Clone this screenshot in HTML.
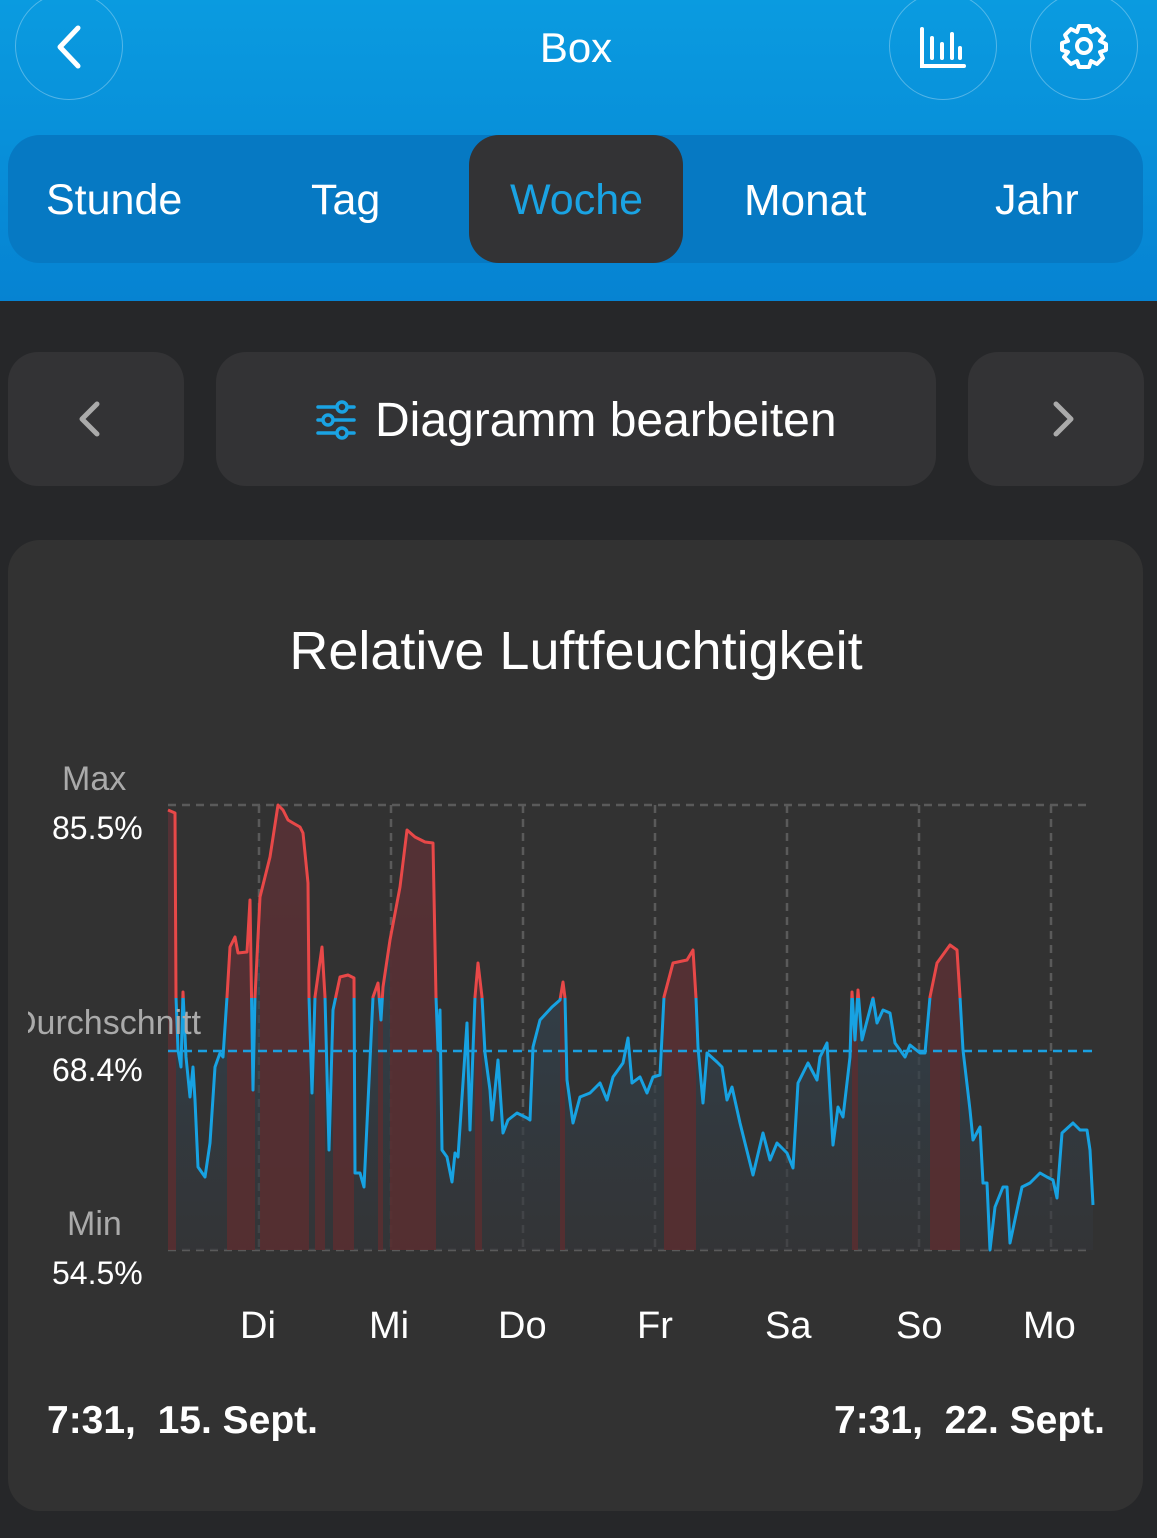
<!DOCTYPE html>
<html><head><meta charset="utf-8"><style>
*{margin:0;padding:0;box-sizing:border-box}
body{width:1157px;height:1538px;background:#262729;font-family:"Liberation Sans",sans-serif;position:relative;overflow:hidden;color:#fff}
.hdr{position:absolute;left:0;top:0;width:1157px;height:301px;background:linear-gradient(#0a9be0,#0683d2)}
.circ{position:absolute;top:-8px;width:108px;height:108px;border:1.5px solid rgba(255,255,255,0.3);border-radius:50%}
.abs{position:absolute}
.lbl{position:absolute;z-index:5}
.tabs{position:absolute;left:8px;top:135px;width:1135px;height:128px;border-radius:32px;background:#0679c3}
.tab{position:absolute;top:176px;font-size:43px;color:#fff}
.btn{position:absolute;top:352px;height:134px;background:#333335;border-radius:30px}
.card{position:absolute;left:8px;top:540px;width:1135px;height:971px;background:#323232;border-radius:32px}
</style></head><body>
<div class="hdr"></div>
<div class="circ" style="left:15px"></div>
<div class="circ" style="left:889px"></div>
<div class="circ" style="left:1030px"></div>
<svg class="abs" style="left:0;top:0" width="1157" height="110">
<polyline points="78,28 60,47 78,66" fill="none" stroke="#fff" stroke-width="5" stroke-linecap="round" stroke-linejoin="round"/>
<g stroke="#fff" stroke-width="4" stroke-linecap="round" fill="none">
<polyline points="922,29 922,66 964,66"/><line x1="932" y1="38" x2="932" y2="58"/><line x1="942" y1="44" x2="942" y2="58"/><line x1="952" y1="34" x2="952" y2="58"/><line x1="960" y1="48" x2="960" y2="58"/>
<circle cx="1084" cy="46" r="7"/>
<path d="M1079,26 L1089,26 L1091,32 L1097,29 L1104,36 L1100,41 L1106,44 L1106,50 L1100,52 L1103,58 L1097,64 L1091,61 L1089,67 L1079,67 L1077,61 L1071,64 L1064,57 L1068,52 L1062,50 L1062,43 L1068,41 L1065,35 L1071,29 L1077,32 Z" stroke-linejoin="round"/>
</g></svg>
<div class="abs" style="left:0;width:1152px;top:24px;text-align:center;font-size:42px">Box</div>
<div class="tabs"></div>
<div class="abs" style="left:469px;top:135px;width:214px;height:128px;border-radius:30px;background:#333335"></div>
<div class="tab" style="left:46px">Stunde</div>
<div class="tab" style="left:311px">Tag</div>
<div class="tab" style="left:510px;color:#1aa3e3">Woche</div>
<div class="tab" style="left:744px;font-size:44px">Monat</div>
<div class="tab" style="left:995px">Jahr</div>
<div class="btn" style="left:8px;width:176px"></div>
<div class="btn" style="left:216px;width:720px"></div>
<div class="btn" style="left:968px;width:176px"></div>
<svg class="abs" style="left:0;top:352px" width="1157" height="134">
<polyline points="97,52 82,67 97,82" fill="none" stroke="#aaa" stroke-width="5" stroke-linecap="round" stroke-linejoin="round"/>
<polyline points="1056,52 1071,67 1056,82" fill="none" stroke="#aaa" stroke-width="5" stroke-linecap="round" stroke-linejoin="round"/>
<g stroke="#1aa3e3" stroke-width="3.5" fill="#333335" stroke-linecap="round">
<line x1="318" y1="55" x2="354" y2="55"/><line x1="318" y1="68" x2="354" y2="68"/><line x1="318" y1="81" x2="354" y2="81"/>
<circle cx="342" cy="55" r="5"/><circle cx="328" cy="68" r="5"/><circle cx="342" cy="81" r="5"/></g>
</svg>
<div class="abs" style="left:375px;top:393px;font-size:48px">Diagramm bearbeiten</div>
<div class="card"></div>
<div class="abs" style="left:0;width:1152px;top:620px;text-align:center;font-size:54px">Relative Luftfeuchtigkeit</div>
<svg class="abs" style="left:0;top:0" width="1157" height="1538">
<defs>
<linearGradient id="bg" x1="0" y1="0" x2="0" y2="1"><stop offset="0" stop-color="#2f4a5c" stop-opacity="0.9"/><stop offset="1" stop-color="#34363a" stop-opacity="0.6"/></linearGradient>
<clipPath id="top"><rect x="0" y="0" width="1157" height="998"/></clipPath>
<clipPath id="bot"><rect x="0" y="998" width="1157" height="400"/></clipPath>
<clipPath id="area"><polygon id="ap" points=""/></clipPath>
</defs>
<g stroke="#5a5a5a" stroke-width="2.5" stroke-dasharray="8,6">
<line x1="168" y1="805" x2="1092" y2="805"/><line x1="168" y1="1250" x2="1092" y2="1250"/>
<line x1="259" y1="805" x2="259" y2="1250"/><line x1="391" y1="805" x2="391" y2="1250"/><line x1="523" y1="805" x2="523" y2="1250"/><line x1="655" y1="805" x2="655" y2="1250"/><line x1="787" y1="805" x2="787" y2="1250"/><line x1="919" y1="805" x2="919" y2="1250"/><line x1="1051" y1="805" x2="1051" y2="1250"/>
</g>
<g id="chart"></g>
<line x1="168" y1="1051" x2="1092" y2="1051" stroke="#1a9fe0" stroke-width="2.5" stroke-dasharray="9,6"/>
</svg>
<div class="lbl" style="left:62px;top:760px;font-size:34px;color:#aaa">Max</div>
<div class="lbl" style="left:52px;top:810px;font-size:32px">85.5%</div>
<div class="lbl" style="left:28px;top:1004px;font-size:34px;color:#aaa;width:180px;overflow:hidden;white-space:nowrap;text-indent:-16px">Durchschnitt</div>
<div class="lbl" style="left:52px;top:1052px;font-size:32px">68.4%</div>
<div class="lbl" style="left:67px;top:1205px;font-size:34px;color:#aaa">Min</div>
<div class="lbl" style="left:52px;top:1255px;font-size:32px">54.5%</div>
<div class="abs" style="left:240px;top:1305px;font-size:38px">Di</div>
<div class="abs" style="left:369px;top:1305px;font-size:38px">Mi</div>
<div class="abs" style="left:498px;top:1305px;font-size:38px">Do</div>
<div class="abs" style="left:637px;top:1305px;font-size:38px">Fr</div>
<div class="abs" style="left:765px;top:1305px;font-size:38px">Sa</div>
<div class="abs" style="left:896px;top:1305px;font-size:38px">So</div>
<div class="abs" style="left:1023px;top:1305px;font-size:38px">Mo</div>
<div class="abs" style="left:47px;top:1399px;font-size:39px;font-weight:bold;white-space:nowrap">7:31,&nbsp; 15. Sept.</div>
<div class="abs" style="right:52px;top:1399px;font-size:39px;font-weight:bold;white-space:nowrap">7:31,&nbsp; 22. Sept.</div>
<script>
var p="168,810 175,813 176,997 178,1050 181,1067 183,992 186,1057 190,1097 193,1067 195,1100 198,1167 205,1177 210,1143 215,1067 220,1053 223,1057 227,997 230,947 235,937 238,953 247,952 250,900 253,1090 255,997 260,897 270,857 278,805 283,810 288,820 293,823 300,827 303,833 308,883 309,997 312,1093 315,997 322,947 325,997 329,1150 333,1010 340,977 348,975 354,978 355,1173 360,1173 364,1187 373,997 378,983 381,1020 383,987 390,940 400,887 407,830 415,837 425,842 433,843 436,997 438,1050 440,1010 442,1150 447,1157 452,1182 455,1153 458,1157 467,1023 470,1130 475,997 478,963 482,997 485,1053 490,1090 492,1120 498,1060 503,1133 508,1120 517,1113 527,1118 530,1120 533,1047 540,1020 552,1007 560,1000 563,982 565,998 567,1080 573,1123 580,1097 590,1093 600,1083 607,1100 613,1077 623,1063 628,1038 632,1083 640,1077 647,1093 653,1077 660,1075 664,997 673,963 687,960 693,950 696,998 698,1047 703,1103 707,1053 717,1062 722,1067 727,1100 732,1087 740,1123 753,1175 763,1133 770,1160 777,1143 787,1153 793,1168 798,1083 808,1063 817,1080 820,1057 827,1043 833,1145 838,1107 843,1117 850,1057 852,992 855,1040 858,990 862,1040 873,998 877,1023 883,1010 890,1013 895,1043 905,1057 910,1045 920,1053 925,1053 930,997 937,963 950,945 957,950 960,997 963,1050 970,1110 973,1140 980,1127 983,1183 987,1183 990,1250 995,1207 1003,1187 1007,1187 1010,1243 1017,1210 1022,1187 1030,1183 1040,1173 1047,1177 1053,1180 1057,1198 1062,1133 1073,1123 1080,1130 1087,1130 1090,1150 1093,1205";
document.getElementById("ap").setAttribute("points","168,1250 "+p+" 1093,1250");
var reds=[[168,176],[227,255],[260,309],[315,325],[333,354],[378,383],[390,436],[475,482],[560,565],[664,696],[852,858],[930,960]];
var s='<polygon points="168,1250 '+p+' 1093,1250" fill="url(#bg)"/>';
s+='<g clip-path="url(#area)">';
reds.forEach(function(r){s+='<rect x="'+r[0]+'" y="800" width="'+(r[1]-r[0])+'" height="450" fill="#5a2e30" opacity="0.85"/>';});
s+='</g>';
s+='<polyline points="'+p+'" fill="none" stroke="#e84848" stroke-width="3" stroke-linejoin="round" clip-path="url(#top)"/>';
s+='<polyline points="'+p+'" fill="none" stroke="#17a2e2" stroke-width="3" stroke-linejoin="round" clip-path="url(#bot)"/>';
document.getElementById("chart").innerHTML=s;
</script>
</body></html>
